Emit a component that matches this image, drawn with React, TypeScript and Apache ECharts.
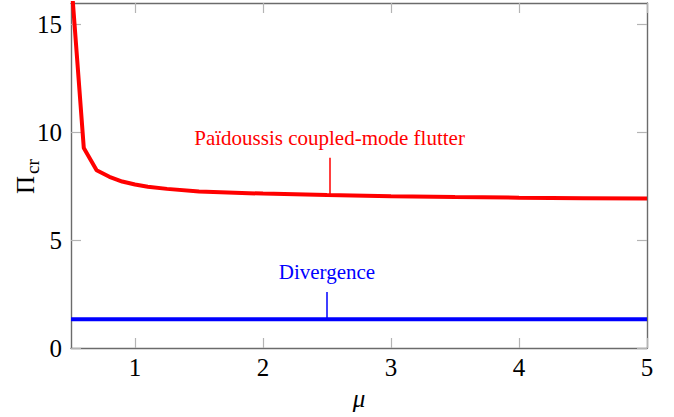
import React, { useEffect, useRef } from "react";
import * as echarts from "echarts";

const FONT = "Liberation Serif";

const muValues = [0.5, 0.6, 0.7, 0.8, 0.9, 1.0, 1.1, 1.25, 1.5, 2.0, 2.5, 3.0, 3.5, 4.0, 4.5, 5.0];
const flutterValues = [17.2, 9.27, 8.24, 7.94, 7.72, 7.58, 7.48, 7.38, 7.26, 7.16, 7.09, 7.04, 7.0, 6.97, 6.95, 6.93];

const divergenceMu = [0.5, 5.0];
const divergenceValues = [1.33, 1.33];

const xTicks = [1, 2, 3, 4, 5];
const yTicks = [0, 5, 10, 15];

const flutterLabel = "Païdoussis coupled-mode flutter";
const flutterPin = { mu: 2.52, from: 7.09, to: 8.82 };
const divergenceLabel = "Divergence";
const divergencePin = { mu: 2.5, from: 1.33, to: 2.6 };

const xName = "μ";

export default function App() {
  const ref = useRef<HTMLDivElement>(null);

  useEffect(() => {
    if (!ref.current) return;
    const chart = echarts.init(ref.current, null, { renderer: "svg" });

    const axisLine = { show: true, onZero: false, lineStyle: { color: "#6b6b6b", width: 1.4 } };
    const tickStyle = { color: "#b4b4b4", width: 1.2 };

    const xBase = {
      type: "value",
      min: 0.5,
      max: 5,
      axisLine,
      splitLine: { show: false },
      axisTick: { show: true, inside: true, length: 10, customValues: xTicks, lineStyle: tickStyle },
    };
    const yBase = {
      type: "value",
      min: 0,
      max: 16,
      axisLine,
      splitLine: { show: false },
      axisTick: { show: true, inside: true, length: 10, customValues: yTicks, lineStyle: tickStyle },
    };

    const option: any = {
      animation: false,
      backgroundColor: "#fff",
      textStyle: { fontFamily: FONT },
      grid: { left: 71, right: 27, top: 3, bottom: 69, containLabel: false },
      xAxis: [
        {
          ...xBase,
          position: "bottom",
          name: xName,
          nameLocation: "middle",
          nameGap: 38,
          nameTextStyle: { fontSize: 25, fontStyle: "italic", fontFamily: FONT, color: "#000" },
          axisLabel: { show: true, customValues: xTicks, fontSize: 25, fontFamily: FONT, color: "#000", margin: 7 },
        },
        { ...xBase, position: "top", axisLabel: { show: false } },
      ],
      yAxis: [
        {
          ...yBase,
          position: "left",
          axisLabel: { show: true, customValues: yTicks, fontSize: 25, fontFamily: FONT, color: "#000", margin: 9 },
        },
        { ...yBase, position: "right", axisLabel: { show: false } },
      ],
      graphic: [
        {
          type: "group",
          x: 38,
          y: 194,
          rotation: Math.PI / 2,
          children: [
            {
              type: "text",
              x: 0,
              y: 0,
              style: { text: "Π", fontSize: 25, fontFamily: FONT, fill: "#000", align: "left", verticalAlign: "bottom" },
            },
            {
              type: "text",
              x: 20,
              y: 4,
              style: { text: "cr", fontSize: 19, fontFamily: FONT, fill: "#000", align: "left", verticalAlign: "bottom" },
            },
          ],
        },
      ],
      series: [
        {
          type: "line",
          xAxisIndex: 0,
          yAxisIndex: 0,
          data: muValues.map((m, i) => [m, flutterValues[i]]),
          showSymbol: false,
          symbol: "none",
          smooth: false,
          clip: true,
          lineStyle: { color: "#ff0000", width: 4 },
          z: 3,
          markLine: {
            silent: true,
            symbol: ["none", "none"],
            lineStyle: { color: "#ff0000", width: 1.5, type: "solid", opacity: 1 },
            label: {
              show: true,
              position: "end",
              formatter: flutterLabel,
              color: "#ff0000",
              fontSize: 21,
              fontFamily: FONT,
              distance: 9,
            },
            emphasis: { disabled: true },
            data: [[{ coord: [flutterPin.mu, flutterPin.from] }, { coord: [flutterPin.mu, flutterPin.to] }]],
          },
        },
        {
          type: "line",
          xAxisIndex: 0,
          yAxisIndex: 0,
          data: divergenceMu.map((m, i) => [m, divergenceValues[i]]),
          showSymbol: false,
          symbol: "none",
          clip: true,
          lineStyle: { color: "#0000ff", width: 4 },
          z: 3,
          markLine: {
            silent: true,
            symbol: ["none", "none"],
            lineStyle: { color: "#0000ff", width: 1.5, type: "solid", opacity: 1 },
            label: {
              show: true,
              position: "end",
              formatter: divergenceLabel,
              color: "#0000ff",
              fontSize: 21,
              fontFamily: FONT,
              distance: 9,
            },
            emphasis: { disabled: true },
            data: [[{ coord: [divergencePin.mu, divergencePin.from] }, { coord: [divergencePin.mu, divergencePin.to] }]],
          },
        },
      ],
    };

    chart.setOption(option);
    return () => chart.dispose();
  }, []);

  return (
    <div
      ref={ref}
      style={{ position: "fixed", left: 0, top: 0, width: 674, height: 417, background: "#fff" }}
    />
  );
}
